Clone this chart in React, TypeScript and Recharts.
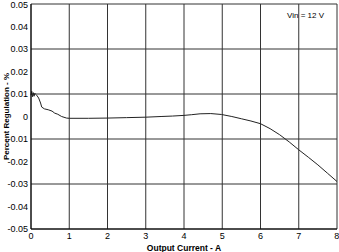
import React from 'react';
import { LineChart, Line, XAxis, YAxis, CartesianGrid } from 'recharts';

// Output current (A) and percent regulation (%)
const current = [
  0, 0.02, 0.04, 0.06, 0.08, 0.1, 0.12, 0.14, 0.16, 0.2, 0.25, 0.28, 0.35, 0.45, 0.55, 0.62, 0.7, 0.8, 0.93,
  1.0, 1.5, 2.0, 2.5, 3.0, 3.4, 3.7, 4.0, 4.2, 4.42, 4.7, 4.98, 5.25, 5.5, 5.75, 6.0, 6.25, 6.5, 6.75, 7.0,
  7.25, 7.5, 7.75, 8.0,
];
const regulation = [
  0.0095, 0.0112, 0.0088, 0.0106, 0.009, 0.0103, 0.0099, 0.0096, 0.0092, 0.0082, 0.006, 0.0042, 0.0034, 0.003,
  0.0024, 0.0015, 0.001, 0.0, -0.0007, -0.0008, -0.0008, -0.0007, -0.0005, -0.0003, 0.0, 0.0002, 0.0005, 0.0008,
  0.0012, 0.0013, 0.0009, 0.0, -0.001, -0.002, -0.0032, -0.0054, -0.0081, -0.0113, -0.0148, -0.0181, -0.0215,
  -0.0252, -0.0289,
];
const xTicks = [0, 1, 2, 3, 4, 5, 6, 7, 8];
const yTicks = [-0.05, -0.04, -0.03, -0.02, -0.01, 0, 0.01, 0.02, 0.03, 0.04, 0.05];

const data = current.map((c, i) => ({ current: c, regulation: regulation[i] }));

const font = 'Liberation Sans, Arial, sans-serif';

const App: React.FC = () => {
  return (
    <div style={{ position: 'absolute', left: 0, top: 0, width: 339, height: 252, background: '#fff', fontFamily: font }}>
      <LineChart width={339} height={252} data={data} margin={{ top: 4, right: 2, left: 0, bottom: 0 }}>
        <CartesianGrid stroke="#333" strokeWidth={1} />
        <XAxis
          dataKey="current"
          type="number"
          domain={[0, 8]}
          ticks={xTicks}
          tickLine={false}
          tickSize={0}
          tickMargin={4}
          height={23}
          axisLine={{ stroke: '#000' }}
          tick={{ fill: '#000', fontSize: 9, fontFamily: font }}
          label={{ value: 'Output Current - A', position: 'insideBottom', offset: 1, fill: '#000', fontSize: 8.5, fontWeight: 'bold', fontFamily: font }}
        />
        <YAxis
          type="number"
          domain={[-0.05, 0.05]}
          ticks={yTicks}
          tickFormatter={(v: number) => (Math.abs(v) < 1e-9 ? '0' : v.toFixed(2))}
          tickLine={false}
          tickSize={0}
          tickMargin={3}
          width={31}
          axisLine={{ stroke: '#000' }}
          tick={{ fill: '#000', fontSize: 9, fontFamily: font }}
          label={{ value: 'Percent Regulation - %', angle: -90, position: 'insideLeft', offset: 6, style: { textAnchor: 'middle' }, fill: '#000', fontSize: 8, fontWeight: 'bold', fontFamily: font }}
        />
        <Line
          dataKey="regulation"
          type="linear"
          stroke="#222"
          strokeWidth={1}
          dot={false}
          isAnimationActive={false}
        />
      </LineChart>
      <div style={{ position: 'absolute', left: 287, top: 11, fontSize: 8, color: '#000', fontFamily: font }}>Vin = 12 V</div>
    </div>
  );
};

export default App;
